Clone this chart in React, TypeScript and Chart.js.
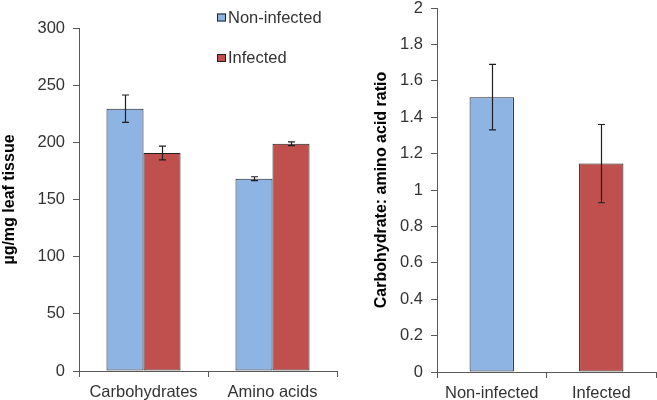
import React, { useEffect, useRef } from "react";
import { Chart, registerables } from "chart.js";

Chart.register(...registerables);

// ---- Data ----
const leftCategories = ["Carbohydrates", "Amino acids"];
const seriesNames = ["Non-infected", "Infected"];
const nonInfectedValues = [229.4, 168.2];
const nonInfectedErrors = [12, 1.7];
const infectedValues = [190.7, 198.8];
const infectedErrors = [6, 1.6];
const leftTicks = [0, 50, 100, 150, 200, 250, 300];

const rightCategories = ["Non-infected", "Infected"];
const ratioValues = [1.51, 1.145];
const ratioErrors = [0.18, 0.215];
const rightTicks = [0, 0.2, 0.4, 0.6, 0.8, 1, 1.2, 1.4, 1.6, 1.8, 2];

const BLUE = "#8EB4E3";
const RED = "#C0504D";
const BORDER = "#1f1f1f";
const AXIS = "#595959";
const TEXT = "#333333";
const FONT = "'Liberation Sans', Arial, sans-serif";

const errorBarPlugin = {
  id: "errorBars",
  afterDatasetsDraw(chart: any) {
    const ctx = chart.ctx;
    const y = chart.scales.y;
    ctx.save();
    ctx.strokeStyle = BORDER;
    ctx.lineWidth = 1.2;
    chart.data.datasets.forEach((ds: any, di: number) => {
      const meta = chart.getDatasetMeta(di);
      if (!ds.errors) return;
      meta.data.forEach((bar: any, i: number) => {
        const v = ds.data[i];
        const e = ds.errors[i];
        const top = y.getPixelForValue(v + e);
        const bot = y.getPixelForValue(v - e);
        const x = Math.round(bar.x) + 0.5;
        const cap = 3.5;
        ctx.beginPath();
        ctx.moveTo(x, top);
        ctx.lineTo(x, bot);
        ctx.moveTo(x - cap, top);
        ctx.lineTo(x + cap, top);
        ctx.moveTo(x - cap, bot);
        ctx.lineTo(x + cap, bot);
        ctx.stroke();
      });
    });
    ctx.restore();
  },
};

const legendPlugin = {
  id: "customLegend",
  afterDraw(chart: any) {
    const opts = chart.options.plugins.customLegend;
    if (!opts) return;
    const ctx = chart.ctx;
    ctx.save();
    ctx.font = `16.5px ${FONT}`;
    ctx.textBaseline = "middle";
    chart.data.datasets.forEach((ds: any, i: number) => {
      const cy = opts.y + i * opts.gap;
      ctx.fillStyle = ds.backgroundColor;
      ctx.fillRect(opts.x, cy - 4, 9, 8);
      ctx.strokeStyle = BORDER;
      ctx.lineWidth = 1;
      ctx.strokeRect(opts.x + 0.5, cy - 3.5, 8, 7);
      ctx.fillStyle = TEXT;
      ctx.fillText(ds.label, opts.x + 11, cy + 0.5);
    });
    ctx.restore();
  },
};

function makeScales(yMin: number, yMax: number, ticks: number[], title: string, yWidth: number, titlePad: number, xHeight: number) {
  return {
    x: {
      offset: true,
      grid: {
        display: true,
        drawOnChartArea: false,
        drawTicks: true,
        tickLength: 6,
        color: AXIS,
        offset: true,
      },
      border: { display: true, color: AXIS, width: 1 },
      ticks: { color: TEXT, font: { family: FONT, size: 16.5 }, padding: 6, maxRotation: 0 },
      afterFit(scale: any) {
        scale.height = xHeight;
        scale.paddingLeft = 0;
        scale.paddingRight = 0;
      },
    },
    y: {
      min: yMin,
      max: yMax,
      afterBuildTicks(scale: any) {
        scale.ticks = ticks.map((v) => ({ value: v }));
      },
      grid: {
        display: true,
        drawOnChartArea: false,
        drawTicks: true,
        tickLength: 6,
        color: AXIS,
      },
      border: { display: true, color: AXIS, width: 1 },
      ticks: {
        color: TEXT,
        font: { family: FONT, size: 16.5 },
        padding: 8,
        callback: (v: any) => String(Math.round(Number(v) * 10) / 10),
      },
      title: {
        display: true,
        text: title,
        color: "#000000",
        font: { family: FONT, size: 16, weight: "bold" },
        padding: { top: titlePad, bottom: 0 },
      },
      afterFit(scale: any) {
        scale.width = yWidth;
        scale.paddingTop = 0;
        scale.paddingBottom = 0;
      },
    },
  };
}

export default function App() {
  const leftRef = useRef<HTMLCanvasElement>(null);
  const rightRef = useRef<HTMLCanvasElement>(null);

  useEffect(() => {
    const left = new Chart(leftRef.current!, {
      type: "bar",
      data: {
        labels: leftCategories,
        datasets: [
          {
            label: seriesNames[0],
            data: nonInfectedValues,
            errors: nonInfectedErrors,
            backgroundColor: BLUE,
            borderColor: BORDER,
            borderWidth: 1,
            borderSkipped: false,
            categoryPercentage: 0.574,
            barPercentage: 1,
          } as any,
          {
            label: seriesNames[1],
            data: infectedValues,
            errors: infectedErrors,
            backgroundColor: RED,
            borderColor: BORDER,
            borderWidth: 1,
            borderSkipped: false,
            categoryPercentage: 0.574,
            barPercentage: 1,
          } as any,
        ],
      },
      options: {
        responsive: false,
        animation: false,
        devicePixelRatio: 1,
        layout: { padding: { top: 28, right: 8, left: 0, bottom: 0 } },
        plugins: {
          legend: { display: false },
          tooltip: { enabled: false },
          customLegend: { x: 217, y: 17.5, gap: 40.5 },
        } as any,
        scales: makeScales(0, 300, leftTicks, "µg/mg leaf tissue", 79, 0, 29) as any,
      },
      plugins: [errorBarPlugin, legendPlugin],
    });

    const right = new Chart(rightRef.current!, {
      type: "bar",
      data: {
        labels: rightCategories,
        datasets: [
          {
            label: "ratio",
            data: ratioValues,
            errors: ratioErrors,
            backgroundColor: [BLUE, RED],
            borderColor: BORDER,
            borderWidth: 1,
            borderSkipped: false,
            categoryPercentage: 1,
            barPercentage: 0.405,
          } as any,
        ],
      },
      options: {
        responsive: false,
        animation: false,
        devicePixelRatio: 1,
        layout: { padding: { top: 8, right: 1, left: 0, bottom: 0 } },
        plugins: {
          legend: { display: false },
          tooltip: { enabled: false },
        },
        scales: makeScales(0, 2, rightTicks, "Carbohydrate: amino acid ratio", 97, 32, 28) as any,
      },
      plugins: [errorBarPlugin],
    });

    return () => {
      left.destroy();
      right.destroy();
    };
  }, []);

  return (
    <div style={{ position: "absolute", left: 0, top: 0, width: 657, height: 400, background: "#fff" }}>
      <canvas
        ref={leftRef}
        width={345}
        height={400}
        style={{ position: "absolute", left: 0, top: 0, width: 345, height: 400 }}
      />
      <canvas
        ref={rightRef}
        width={317}
        height={400}
        style={{ position: "absolute", left: 340, top: 0, width: 317, height: 400 }}
      />
    </div>
  );
}
